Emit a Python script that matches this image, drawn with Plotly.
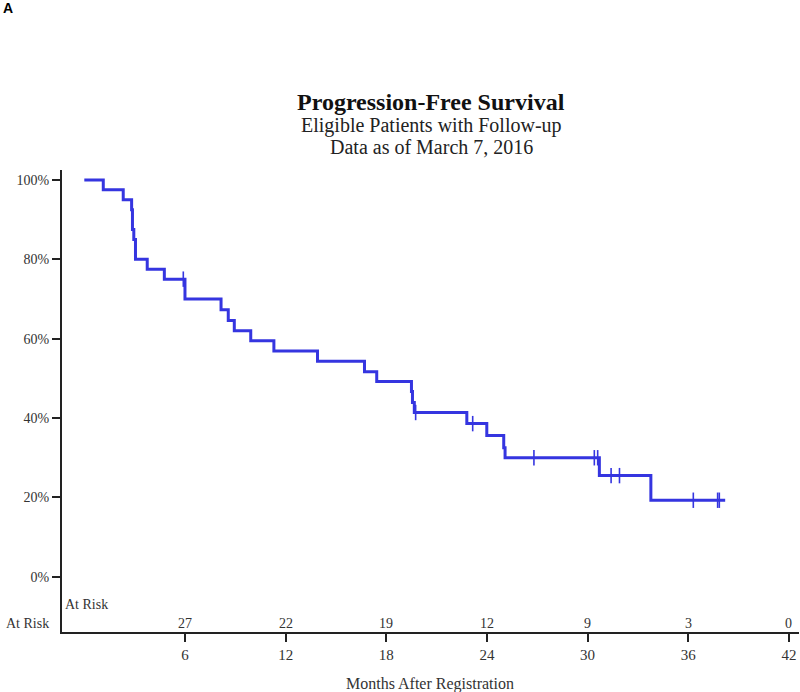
import plotly.graph_objects as go

# Kaplan-Meier step data (months, survival %)
event_times = [0, 1.13, 2.32, 2.82, 2.87, 2.95, 3.05, 3.75, 4.77, 6.0, 8.15, 8.58, 8.94, 9.92,
               11.3, 13.9, 16.7, 17.43, 19.5, 19.56, 19.67, 22.8, 23.99, 25.0, 25.08, 30.7, 33.77]
surv_pct = [100.0, 97.5, 95.0, 92.5, 87.5, 85.0, 80.0, 77.5, 75.0, 70.0, 67.3, 64.6, 62.0, 59.5,
            56.9, 54.3, 51.7, 49.2, 46.7, 43.9, 41.4, 38.6, 35.6, 32.5, 30.0, 25.5, 19.3]
last_followup = 38.2
censor_times = [5.9, 19.75, 23.15, 26.8, 30.4, 30.6, 31.4, 31.9, 36.3, 37.75, 37.85]

risk_months = [6, 12, 18, 24, 30, 36, 42]
risk_counts = [27, 22, 19, 12, 9, 3, 0]

x_ticks = [6, 12, 18, 24, 30, 36, 42]
y_ticks = [0, 20, 40, 60, 80, 100]
y_tick_labels = ["0%", "20%", "40%", "60%", "80%", "100%"]

LINE_COLOR = "#3535e0"
FONT = "Liberation Serif, Times New Roman, serif"

# plot area geometry (pixels)
PL, PR, PT, PB = 62, 799, 170, 632
W, H = 800, 692

# build step coordinates
xs, ys = [], []
for i, (t, s) in enumerate(zip(event_times, surv_pct)):
    if i > 0:
        xs.append(t)
        ys.append(surv_pct[i - 1])
    xs.append(t)
    ys.append(s)
xs.append(last_followup)
ys.append(surv_pct[-1])


def surv_at(t):
    val = surv_pct[0]
    for et, s in zip(event_times, surv_pct):
        if et <= t:
            val = s
    return val


censor_y = [surv_at(t) for t in censor_times]


def py(px):
    return (PB - px) / float(PB - PT)


def pxx(px):
    return (px - PL) / float(PR - PL)


fig = go.Figure()
fig.add_trace(go.Scatter(x=xs, y=ys, mode="lines",
                         line=dict(color=LINE_COLOR, width=3),
                         hoverinfo="skip", showlegend=False))
fig.add_trace(go.Scatter(x=censor_times, y=censor_y, mode="markers",
                         marker=dict(symbol="line-ns", size=11,
                                     line=dict(color=LINE_COLOR, width=1.6)),
                         hoverinfo="skip", showlegend=False))

tf = dict(family=FONT, size=14, color="#333")
annotations = []
for m, c in zip(risk_months, risk_counts):
    annotations.append(dict(x=m, y=py(623), xref="x", yref="paper", text=str(c),
                            xanchor="center", yanchor="middle", showarrow=False, font=tf))
annotations.append(dict(x=pxx(63), y=py(604), xref="paper", yref="paper", text="At Risk",
                        xanchor="left", yanchor="middle", showarrow=False, font=tf))
annotations.append(dict(x=pxx(51), y=py(623), xref="paper", yref="paper", text="At Risk",
                        xanchor="right", yanchor="middle", showarrow=False, font=tf))
annotations.append(dict(x=pxx(430), y=py(684), xref="paper", yref="paper",
                        text="Months After Registration", xanchor="center", yanchor="middle",
                        showarrow=False, font=dict(family=FONT, size=16, color="#333")))

annotations.append(dict(x=pxx(431), y=py(102), xref="paper", yref="paper",
                        text="<b>Progression-Free Survival</b>", showarrow=False,
                        xanchor="center", yanchor="middle",
                        font=dict(family=FONT, size=24, color="#111")))
annotations.append(dict(x=pxx(431), y=py(125), xref="paper", yref="paper",
                        text="Eligible Patients with Follow-up", showarrow=False,
                        xanchor="center", yanchor="middle",
                        font=dict(family=FONT, size=20, color="#222")))
annotations.append(dict(x=pxx(431), y=py(147), xref="paper", yref="paper",
                        text="Data as of March 7, 2016", showarrow=False,
                        xanchor="center", yanchor="middle",
                        font=dict(family=FONT, size=20, color="#222")))
annotations.append(dict(x=pxx(1), y=py(8), xref="paper", yref="paper",
                        xanchor="left", yanchor="middle",
                        text="<b>A</b>", showarrow=False,
                        font=dict(family="Liberation Sans, Arial, sans-serif", size=14, color="#000")))

fig.update_layout(
    width=W, height=H,
    margin=dict(l=PL, r=W - PR, t=PT, b=H - PB, autoexpand=False),
    plot_bgcolor="white", paper_bgcolor="white",
    font=dict(family=FONT, size=14, color="#333"),
    annotations=annotations,
    xaxis=dict(range=[-1.33, 42.6], tickmode="array", tickvals=x_ticks,
               ticktext=[str(v) for v in x_ticks], automargin=False,
               showline=True, linecolor="#222", linewidth=2,
               ticks="outside", ticklen=8, tickwidth=1.5, tickcolor="#222",
               showgrid=False, zeroline=False,
               tickfont=dict(family=FONT, size=15, color="#333")),
    yaxis=dict(range=[-13.9, 102.5], tickmode="array", tickvals=y_ticks,
               ticktext=y_tick_labels, automargin=False,
               showline=True, linecolor="#222", linewidth=2,
               ticks="outside", ticklen=8, tickwidth=1.5, tickcolor="#222",
               showgrid=False, zeroline=False,
               tickfont=dict(family=FONT, size=14, color="#333")),
)

fig.write_html("out.html", config={"displayModeBar": False},
               post_script="document.body.style.margin='0';")
